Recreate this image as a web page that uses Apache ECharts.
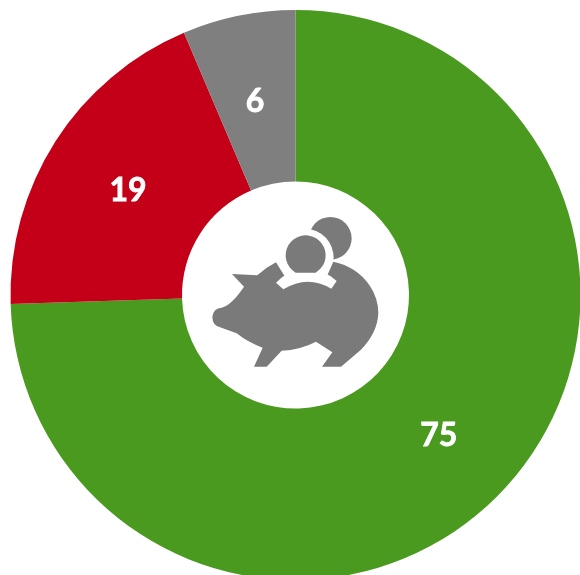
<!DOCTYPE html>
<html>
<head>
<meta charset="utf-8">
<style>
html, body { margin: 0; padding: 0; background: #fff; }
#main { width: 580px; height: 575px; }
</style>
<script src="https://cdn.jsdelivr.net/npm/echarts@6/dist/echarts.min.js"></script>
</head>
<body>
<div id="main"></div>
<script>
var categories = ['A', 'B', 'C'];
var values = [74.5, 19.1, 6.4];
var colors = ['#4a9a1f', '#c30017', '#7f7f7f'];

var iconGray = '#7a7a7a';

var myChart = echarts.init(document.getElementById('main'));

var seriesData = categories.map(function (name, i) {
    return { name: name, value: values[i], itemStyle: { color: colors[i] } };
});

// small nudges so the numbers land where the original has them
var labelNudge = [[-2, 0], [3, 5], [0, 5]];

// piggy bank, paths are in a 3x grid and scaled down by the group
function iconPath(name, d, fill) {
    echarts.graphic.registerShape(name, echarts.graphic.extendPath(d, {}));
    return {
        type: name,
        silent: true,
        style: { fill: fill }
    };
}

var option = {
    animation: false,
    backgroundColor: '#fff',
    series: [
        {
            type: 'pie',
            silent: true,
            center: [295.5, 295],
            radius: [113.5, 285],
            startAngle: 90,
            clockwise: true,
            avoidLabelOverlap: false,
            itemStyle: { borderWidth: 0 },
            label: {
                show: true,
                position: 'inside',
                color: '#fff',
                fontFamily: 'Lato',
                fontWeight: 'bold',
                fontSize: 32,
                textBorderColor: '#fff',
                textBorderWidth: 0.8,
                formatter: function (p) { return Math.round(p.value); }
            },
            labelLayout: function (p) {
                return { dx: labelNudge[p.dataIndex][0], dy: labelNudge[p.dataIndex][1] };
            },
            labelLine: { show: false },
            data: seriesData
        }
    ],
    graphic: [
        {
            type: 'group',
            x: 170,
            y: 170,
            scaleX: 1 / 3,
            scaleY: 1 / 3,
            silent: true,
            children: [
                // back coin
                iconPath('pigBackCoin', 'M417 205A64 64 0 1 1 545 205A64 64 0 1 1 417 205Z', iconGray),
                // body
                iconPath('pigBody', 'M186 312L262 316Q290 291 318 277L490 275Q560 290 598 345Q625 385 625 430Q622 490 572 540L513 590L456 590L487 547L438 515Q390 540 335 542L290 590L252 590L278 533Q235 518 200 490L150 472Q127 465 127 440Q130 415 155 413Q185 405 222 350Z', iconGray),
                // white ring round the front coin
                iconPath('pigRing', 'M318 277A87 87 0 1 1 490 275L470 320L345 320Z', '#fff'),
                // white band under the coin
                iconPath('pigBand', 'M318 338L340 358Q412 313 484 356L500 333Q470 302 407 298Q350 302 318 338Z', '#fff'),
                // front coin
                iconPath('pigCoin', 'M377 308A60 60 0 1 1 437 308Z', iconGray)
            ]
        }
    ]
};

myChart.setOption(option);
</script>
</body>
</html>
